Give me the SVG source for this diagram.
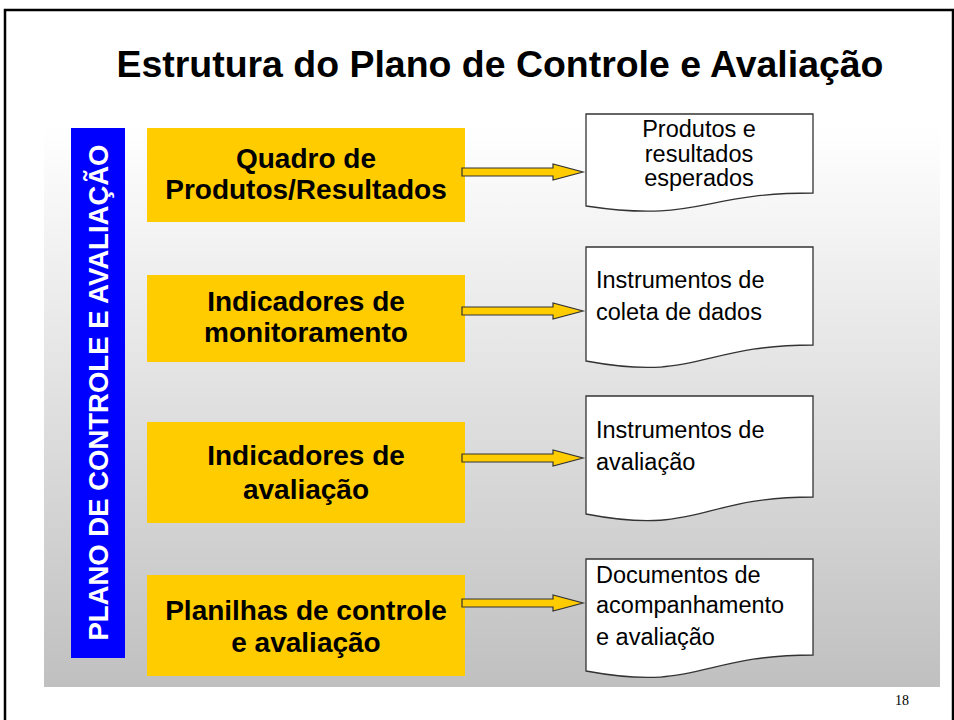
<svg xmlns="http://www.w3.org/2000/svg" width="954" height="720" viewBox="0 0 954 720">
  <defs>
    <linearGradient id="bg" x1="0" y1="0" x2="0" y2="1">
      <stop offset="0" stop-color="#FFFFFF"/>
      <stop offset="1" stop-color="#C0C0C0"/>
    </linearGradient>
    <style>
      .box { fill: #FFCC00; }
      .boxt { font-family: "Liberation Sans", Arial, sans-serif; font-weight: bold; font-size: 28px; fill: #000; text-anchor: middle; }
      .doc { fill: #FFFFFF; stroke: #333333; stroke-width: 1.3; }
      .doct { font-family: "Liberation Sans", Arial, sans-serif; font-size: 23.5px; fill: #000; }
      .arrow { fill: #FFCC00; stroke: #333333; stroke-width: 1.2; stroke-linejoin: miter; }
    </style>
  </defs>

  <rect x="0" y="0" width="954" height="720" fill="#FFFFFF"/>
  <rect x="5" y="10" width="948" height="720" fill="none" stroke="#000" stroke-width="2.5"/>
  <rect x="44" y="128" width="896" height="559" fill="url(#bg)"/>

  <text id="title" x="500" y="77" text-anchor="middle" textLength="767" lengthAdjust="spacingAndGlyphs" font-family="'Liberation Sans', Arial, sans-serif" font-weight="bold" font-size="36">Estrutura do Plano de Controle e Avaliação</text>

  <g id="side-bar">
    <rect x="71" y="128" width="54" height="530" fill="#0000FF"/>
    <text transform="translate(108,392.5) rotate(-90)" x="0" y="0" text-anchor="middle" font-family="'Liberation Sans', Arial, sans-serif" font-weight="bold" font-size="27.5" fill="#FFFFFF">PLANO DE CONTROLE E AVALIAÇÃO</text>
  </g>

  <g id="box1">
    <rect class="box" x="147" y="128" width="318" height="94"/>
    <text class="boxt" x="306" y="168">Quadro de</text>
    <text class="boxt" x="306" y="199">Produtos/Resultados</text>
  </g>
  <g id="box2">
    <rect class="box" x="147" y="275" width="318" height="87"/>
    <text class="boxt" x="306" y="311">Indicadores de</text>
    <text class="boxt" x="306" y="342">monitoramento</text>
  </g>
  <g id="box3">
    <rect class="box" x="147" y="422" width="318" height="101"/>
    <text class="boxt" x="306" y="465">Indicadores de</text>
    <text class="boxt" x="306" y="499">avaliação</text>
  </g>
  <g id="box4">
    <rect class="box" x="147" y="575" width="318" height="101"/>
    <text class="boxt" x="306" y="620">Planilhas de controle</text>
    <text class="boxt" x="306" y="652">e avaliação</text>
  </g>

  <g id="doc1">
    <path class="doc" d="M586,114 H813 V193 C699.5,193 699.5,223 586,206 Z"/>
    <text class="doct" x="699" y="137" text-anchor="middle">Produtos e</text>
    <text class="doct" x="699" y="162" text-anchor="middle">resultados</text>
    <text class="doct" x="699" y="186" text-anchor="middle">esperados</text>
  </g>
  <g id="doc2">
    <path class="doc" d="M586,247 H813 V345 C699.5,345 699.5,382 586,361 Z"/>
    <text class="doct" x="596" y="288">Instrumentos de</text>
    <text class="doct" x="596" y="320">coleta de dados</text>
  </g>
  <g id="doc3">
    <path class="doc" d="M586,396 H813 V497 C699.5,497 699.5,536 586,514 Z"/>
    <text class="doct" x="596" y="438">Instrumentos de</text>
    <text class="doct" x="596" y="470">avaliação</text>
  </g>
  <g id="doc4">
    <path class="doc" d="M586,559 H813 V655 C699.5,655 699.5,692 586,671 Z"/>
    <text class="doct" x="596" y="583">Documentos de</text>
    <text class="doct" x="596" y="613">acompanhamento</text>
    <text class="doct" x="596" y="645">e avaliação</text>
  </g>

  <g id="connectors">
    <polygon class="arrow" points="462,168 553,168 553,164 583,172 553,180 553,176 462,176"/>
    <polygon class="arrow" points="462,307 553,307 553,303 583,311 553,319 553,315 462,315"/>
    <polygon class="arrow" points="462,454 553,454 553,450 583,458 553,466 553,462 462,462"/>
    <polygon class="arrow" points="462,599 553,599 553,595 583,603 553,611 553,607 462,607"/>
  </g>

  <text id="page-number" x="902" y="705" text-anchor="middle" font-family="'Liberation Serif', 'Times New Roman', serif" font-size="14" fill="#000">18</text>
</svg>
